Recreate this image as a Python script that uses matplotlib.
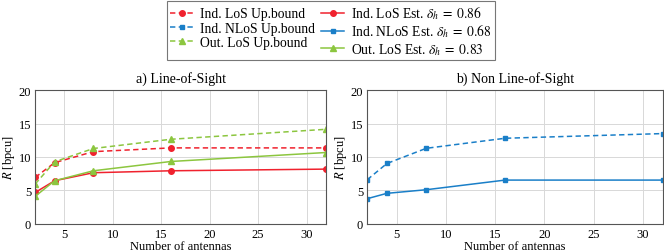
import matplotlib
matplotlib.use("Agg")
import matplotlib.pyplot as plt

plt.rcParams['font.family'] = ['Liberation Serif', 'DejaVu Serif']
plt.rcParams['mathtext.fontset'] = 'stix'

antennas = [2, 4, 8, 16, 32]
ind_los_up = [6.95, 9.15, 10.8, 11.36, 11.36]
ind_los_est = [4.7, 6.45, 7.65, 7.94, 8.19]
out_los_up = [5.96, 9.28, 11.27, 12.65, 14.14]
out_los_est = [4.12, 6.45, 7.94, 9.33, 10.67]
ind_nlos_up = [6.6, 9.03, 11.3, 12.8, 13.5]
ind_nlos_est = [3.77, 4.57, 5.11, 6.55, 6.55]

labels = ["Ind. LoS Up.bound", r"Ind. LoS Est. $\delta_h\;=\;0.86$",
          "Ind. NLoS Up.bound", r"Ind. NLoS Est. $\delta_h\;=\;0.68$",
          "Out. LoS Up.bound", r"Out. LoS Est. $\delta_h\;=\;0.83$"]

red = '#f0222e'
blue = '#1a7fc8'
green = '#8cc63f'

fig = plt.figure(figsize=(6.64, 2.53), dpi=100)
ax1 = fig.add_axes([0.053, 0.111, 0.438, 0.529])
ax2 = fig.add_axes([0.553, 0.111, 0.445, 0.529])

lw = 1.1
ms = 4.0
dash = (0, (3.5, 2.2))
h = {}
h[0], = ax1.plot(antennas, ind_los_up, marker='o', ls=dash, color=red, lw=lw, ms=ms)
h[1], = ax1.plot(antennas, ind_los_est, marker='o', ls='-', color=red, lw=lw, ms=ms)
h[4], = ax1.plot(antennas, out_los_up, marker='^', ls=dash, color=green, lw=lw, ms=ms)
h[5], = ax1.plot(antennas, out_los_est, marker='^', ls='-', color=green, lw=lw, ms=ms)
h[2], = ax2.plot(antennas, ind_nlos_up, marker='s', ls=dash, color=blue, lw=lw, ms=ms - 0.5)
h[3], = ax2.plot(antennas, ind_nlos_est, marker='s', ls='-', color=blue, lw=lw, ms=ms - 0.5)

for ax, title in [(ax1, 'a) Line-of-Sight'), (ax2, 'b) Non Line-of-Sight')]:
    ax.set_xlim(2, 32)
    ax.set_ylim(0, 20)
    ax.set_xticks([5, 10, 15, 20, 25, 30])
    ax.set_yticks([0, 5, 10, 15, 20])
    ax.grid(True, color='#d8d8d8', lw=0.7)
    ax.set_axisbelow(True)
    for s in ax.spines.values():
        s.set_color('#555555')
        s.set_linewidth(0.8)
    ax.tick_params(labelsize=9, length=0, pad=3)
    ax.set_xlabel('Number of antennas', fontsize=9, labelpad=0)
    ax.set_ylabel(r'$R$ [bpcu]', fontsize=9, labelpad=1)
    ax.set_title(title, fontsize=10, pad=6)

order = [0, 2, 4, 1, 3, 5]
leg = fig.legend([h[i] for i in order], [labels[i] for i in order], ncol=2,
                 loc='upper center', bbox_to_anchor=(0.4985, 0.992), fontsize=9.8,
                 frameon=True, fancybox=False, edgecolor='#555555',
                 handlelength=1.7, columnspacing=0.45, labelspacing=0.1,
                 handletextpad=0.5, borderpad=0.25, borderaxespad=0.0)
leg.get_frame().set_linewidth(0.8)

fig.savefig('out.png', dpi=100)
